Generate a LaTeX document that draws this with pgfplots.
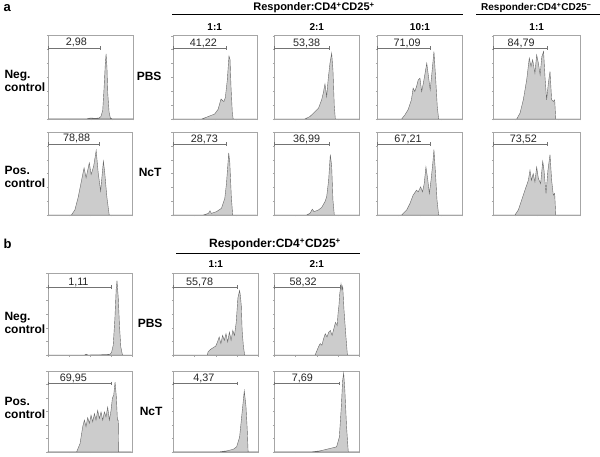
\documentclass[border=0pt]{standalone}
\usepackage{fontspec}
\setmainfont{Liberation Sans}
\usepackage{pgfplots}
\pgfplotsset{compat=1.18}
\pgfplotsset{
 panel/.style={scale only axis, xmin=0, xmax=100, ymin=0, ymax=100,
  axis line style={draw=gray!70, line width=0.4pt},
  xtick={0,25,50,75,100}, ytick={0,16.667,33.333,50,66.667,83.333,100},
  xticklabels={}, yticklabels={}, tick align=outside, major tick length=1.5pt,
  every tick/.style={draw=gray!70, line width=0.3pt}, tick pos=left},
 hist/.style={fill=gray!40, draw=black!60, line width=0.4pt},
 gate/.style={draw=black!55, line width=0.4pt, mark=|, mark size=1.8pt, mark options={solid, line width=0.4pt}},
}
\newcommand\panel[9]{%
\begin{axis}[panel, at={(#1pt,-#2pt)}, anchor=north west, width=#3pt, height=#4pt]
\addplot[hist] coordinates {(0,0) #5 (100,0)} \closedcycle;
\addplot[gate] coordinates {(0,#9) (#6,#9)};
\node[anchor=base, font=\fontsize{10.8}{12}\selectfont, text=black!85] at (axis cs:#7,#9+2.5) {#8};
\end{axis}}
\begin{document}
\begin{tikzpicture}
\useasboundingbox (0,0) rectangle (600pt,-457pt);
\fill[white] (0,0) rectangle (600pt,-457pt);
% ---------- a, row 1
\panel{48.3}{35.5}{85}{83.3}{(45,0)(50,1)(55,0.5)(60,1)(62,3)(64,10)(65.5,35)(67,65)(68,78)(69,62)(70,30)(71.5,8)(73,1)(75,0)}{61}{33}{2,98}{85}
\panel{172.7}{35.7}{84}{83.3}{(34.5,0)(42,2.8)(50,6)(54,11.6)(57.5,24)(59.5,22)(61,21)(62.7,26)(65,47)(67,75.6)(68.3,71)(69.4,39)(71,7)(72,0)}{63.5}{36.5}{41,22}{85}
\panel{274.3}{35.7}{85}{83.3}{(36,0)(42,3)(48,9)(52,13)(55.7,23)(57.6,31)(59.6,42)(61.6,27)(63.5,49)(65.5,67)(67.5,79)(69,59)(70.6,15)(71.8,0)}{64}{38}{53,38}{85}
\panel{377.3}{35.7}{85.3}{83.3}{(28.5,0)(32.4,5)(36,11)(40,23)(42,37)(44,33)(46,39)(48,47)(50,49)(52,33)(54,43)(56,55)(58,67)(60,51)(62,35)(64,55)(66.4,81)(68.4,49)(70.3,15)(71.9,0)}{62.5}{35}{71,09}{85}
\panel{493.3}{35.7}{86.7}{83.3}{(27,0)(30.8,7)(34.6,23)(38.5,47)(41.5,73)(43.5,63)(45.4,71)(48,55)(50,77)(52,67)(54,53)(56,75)(58,81)(59.6,51)(61.5,23)(63.5,43)(65.4,57)(67.3,23)(69.2,21)(70.8,23)(72,0)}{62.7}{32}{84,79}{85}
% ---------- a, row 2
\panel{48.3}{132.3}{84}{82.7}{(27.5,0)(31.6,6)(35.7,22)(39.8,43)(42.6,57)(45,45)(48.8,63)(51,49)(54,59)(57,78)(59.4,51)(62.3,29)(65.6,65)(67.2,51)(69.7,22)(72.5,0)}{61}{33.6}{78,88}{86}
\panel{172.7}{132.3}{84}{82.7}{(36.5,0)(42.5,2)(44.4,5)(46,2)(52,4)(58,8)(62,20)(64,38)(66.7,75)(68,63)(69.8,22)(71.4,0)}{63.5}{37.7}{28,73}{85.5}
\panel{274.3}{132.3}{85}{82.7}{(38,0)(42,2)(44.7,7)(46.7,4)(51.8,6)(55.7,9)(59.6,16)(61.6,22)(63.9,42)(65.9,73)(67.5,59)(69,18)(70.6,0)}{64}{38}{36,99}{85.5}
\panel{377.3}{132.3}{85.3}{82.7}{(28.5,0)(34.4,6)(38.3,14)(42,24)(46,30)(48,28)(50.8,34)(53,28)(55,38)(57,58)(59,44)(61,26)(63,42)(65,62)(66.4,79)(68,54)(70,18)(71.9,0)}{62.5}{36}{67,21}{85.5}
\panel{493.3}{132.3}{86.7}{82.7}{(25,0)(28.8,6)(32.7,18)(36.5,30)(40.4,42)(42.3,54)(44,42)(46,50)(48,40)(50,58)(52,44)(54.6,38)(57,65)(58.5,54)(60.8,26)(63,54)(65.4,73)(67.3,42)(69.2,24)(70.8,26)(72,0)}{62.7}{34.6}{73,52}{85.5}
% ---------- b, row 1
\panel{47.7}{273.3}{84}{81.7}{(44,0)(46,1)(48,0)(70,0.5)(74,1)(76,3)(78,12)(80,45)(81.5,80)(82.5,91)(84,70)(85.5,35)(87,10)(89,0)}{75}{36.5}{1,11}{83}
\panel{173.3}{273.3}{85}{81.7}{(40,0)(41,4)(44,7)(47,9)(50,11)(52,16)(54,22)(56,14)(58,24)(60,18)(62,26)(64,16)(66,28)(68,18)(70,30)(72,24)(74,40)(76,70)(78,79)(79,72)(80,60)(81,30)(82.5,10)(84,0)}{75}{31}{55,78}{83}
\panel{274.3}{273.3}{85}{81.7}{(48,0)(50,5)(52,10)(54,14)(56,12)(58,20)(60,26)(62,22)(64,28)(66,30)(68,24)(70,32)(72,40)(74,36)(75,51)(76,60)(77,75)(78.5,87)(79.5,80)(80.5,84)(82,55)(84,26)(86,0)}{77}{34}{58,32}{83}
% ---------- b, row 2
\panel{47.7}{370.7}{84}{81}{(34.5,0)(38.5,10)(41.7,31)(43.7,39)(45.6,31)(47.6,42)(49.6,35)(51.6,45)(53.6,37)(55.6,47)(57.5,39)(59.5,51)(61.5,41)(63.5,49)(65.5,39)(67.5,49)(69.4,43)(71.4,55)(73.4,39)(75.4,51)(77,66)(78.6,70)(80.2,86)(81.7,68)(83,39)(84,39)(84.5,0)}{76}{30.5}{69,95}{84}
\panel{173.3}{370.7}{85}{81}{(55,0)(63,1)(70.6,3)(74.5,6)(78,18)(80.8,47)(83.5,75)(85.5,56)(87,27)(88,0)}{75.7}{36}{4,37}{84}
\panel{274.3}{370.7}{85}{81}{(45,0)(53.7,1)(65.5,4)(73.3,6)(76.5,18)(78.8,55)(80.4,88)(81.6,97)(83,76)(85,31)(87,0)}{76.5}{33}{7,69}{84}
% ---------- texts
\tikzset{lab/.style={font=\bfseries\fontsize{12}{14}\selectfont}}
\node[anchor=base west, font=\bfseries\fontsize{13}{15}\selectfont] at (0pt,-12pt) {a};
\node[anchor=base west, font=\bfseries\fontsize{13}{15}\selectfont] at (0pt,-249pt) {b};
\node[anchor=base, font=\bfseries\fontsize{11}{13}\selectfont] at (314pt,-11pt) {Responder:CD4\textsuperscript{+}CD25\textsuperscript{+}};
\draw[line width=0.8pt] (172pt,-14pt) -- (462.7pt,-14pt);
\node[anchor=base west, font=\bfseries\fontsize{10}{12}\selectfont, inner sep=0pt] at (481pt,-11pt) {Responder:CD4\textsuperscript{+}CD25\textsuperscript{−}};
\draw[line width=0.8pt] (476pt,-14pt) -- (600pt,-14pt);
\foreach \x/\t in {214.7/1:1, 316.8/2:1, 420/10:1, 536.7/1:1}
  \node[anchor=base, font=\bfseries\fontsize{10}{12}\selectfont] at (\x pt,-31pt) {\t};
\node[anchor=base, font=\bfseries\fontsize{12}{14}\selectfont] at (275pt,-248pt) {Responder:CD4\textsuperscript{+}CD25\textsuperscript{+}};
\draw[line width=0.8pt] (176pt,-253.3pt) -- (360pt,-253.3pt);
\foreach \x/\t in {215.8/1:1, 316.8/2:1}
  \node[anchor=base, font=\bfseries\fontsize{10}{12}\selectfont] at (\x pt,-267.5pt) {\t};
% row labels
\node[lab, anchor=base west] at (1pt,-79pt) {Neg.};
\node[lab, anchor=base west] at (1pt,-92pt) {control};
\node[lab, anchor=base east] at (165pt,-81pt) {PBS};
\node[lab, anchor=base west] at (1pt,-175pt) {Pos.};
\node[lab, anchor=base west] at (1pt,-188pt) {control};
\node[lab, anchor=base east] at (165pt,-177pt) {NcT};
\node[lab, anchor=base west] at (1pt,-320pt) {Neg.};
\node[lab, anchor=base west] at (1pt,-333pt) {control};
\node[lab, anchor=base east] at (166pt,-327pt) {PBS};
\node[lab, anchor=base west] at (1pt,-405pt) {Pos.};
\node[lab, anchor=base west] at (1pt,-418pt) {control};
\node[lab, anchor=base east] at (166pt,-415pt) {NcT};
\end{tikzpicture}
\end{document}
